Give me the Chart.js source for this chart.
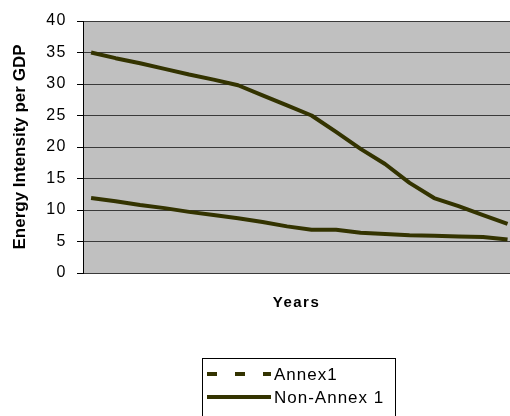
<!DOCTYPE html>
<html>
<head>
<meta charset="utf-8">
<script src="https://cdn.jsdelivr.net/npm/chart.js@4.4.0/dist/chart.umd.min.js"></script>
<style>
  html, body { margin: 0; padding: 0; background: #ffffff; overflow: hidden; }
  #c { display: block; }
</style>
</head>
<body>
<canvas id="c" width="510" height="416"></canvas>
<script>
// Time steps along the horizontal axis (unlabelled years)
const periods = [0, 1, 2, 3, 4, 5, 6, 7, 8, 9, 10, 11, 12, 13, 14, 15, 16, 17];

// Energy intensity per GDP for each group of countries
const annex1    = [11.9, 11.4, 10.8, 10.3, 9.7, 9.2, 8.7, 8.1, 7.4, 6.85, 6.85, 6.4, 6.2, 6.0, 5.9, 5.8, 5.7, 5.3];
const nonAnnex1 = [35.0, 34.1, 33.3, 32.4, 31.5, 30.7, 29.8, 28.2, 26.6, 25.0, 22.4, 19.7, 17.3, 14.3, 11.9, 10.6, 9.2, 7.8];

const seriesNames = ['Annex1', 'Non-Annex 1'];
const yTickValues = [0, 5, 10, 15, 20, 25, 30, 35, 40];

const FONT = '"Liberation Sans", Arial, Helvetica, sans-serif';
const LINE_COLOR = '#333300';

const toPoints = (vals) => periods.map((p, i) => ({ x: p, y: vals[i] }));

// Grey plotting area behind the grid
const plotBackground = {
  id: 'plotBackground',
  beforeDraw(chart) {
    const { ctx, chartArea: a } = chart;
    ctx.letterSpacing = '0px';
    ctx.save();
    ctx.fillStyle = '#c0c0c0';
    ctx.fillRect(a.left, a.top, a.right - a.left, a.bottom - a.top);
    ctx.restore();
  }
};

// Slightly wider tracking for the tick numbers and the horizontal title
const textTracking = {
  id: 'textTracking',
  afterDatasetsDraw(chart) {
    chart.ctx.letterSpacing = '1.5px';
  }
};

// Boxed legend under the chart
const legendBox = {
  id: 'legendBox',
  afterDraw(chart) {
    const ctx = chart.ctx;
    ctx.save();
    ctx.letterSpacing = '1px';
    ctx.strokeStyle = '#000000';
    ctx.lineWidth = 1;
    ctx.setLineDash([]);
    ctx.strokeRect(202.5, 358.5, 193, 70);
    chart.data.datasets.forEach((ds, i) => {
      const cy = 374 + i * 23;
      ctx.beginPath();
      ctx.setLineDash(ds.legendDash || []);
      ctx.strokeStyle = ds.borderColor;
      ctx.lineWidth = 4;
      ctx.lineCap = 'butt';
      ctx.moveTo(207, cy);
      ctx.lineTo(271, cy);
      ctx.stroke();
      ctx.setLineDash([]);
      ctx.fillStyle = '#000000';
      ctx.font = '17px ' + FONT;
      ctx.textBaseline = 'middle';
      ctx.textAlign = 'left';
      ctx.fillText(ds.label, 274, cy + 1);
    });
    ctx.restore();
    ctx.letterSpacing = '0px';
  }
};

new Chart(document.getElementById('c').getContext('2d'), {
  type: 'line',
  data: {
    datasets: [
      {
        label: seriesNames[0],
        data: toPoints(annex1),
        borderColor: LINE_COLOR,
        backgroundColor: LINE_COLOR,
        borderWidth: 4,
        pointRadius: 0,
        tension: 0,
        borderJoinStyle: 'round',
        borderCapStyle: 'butt',
        legendDash: [10, 18]
      },
      {
        label: seriesNames[1],
        data: toPoints(nonAnnex1),
        borderColor: LINE_COLOR,
        backgroundColor: LINE_COLOR,
        borderWidth: 4,
        pointRadius: 0,
        tension: 0,
        borderJoinStyle: 'round',
        borderCapStyle: 'butt'
      }
    ]
  },
  options: {
    responsive: false,
    animation: false,
    events: [],
    layout: { padding: { top: 21, left: 0, right: 0, bottom: 0 } },
    plugins: {
      legend: { display: false },
      tooltip: { enabled: false }
    },
    scales: {
      x: {
        type: 'linear',
        min: -0.33,
        max: 17.1,
        ticks: { display: false },
        grid: { display: false, z: 1 },
        border: { display: false },
        title: {
          display: true,
          text: 'Years',
          color: '#000000',
          font: { family: FONT, size: 15, weight: 'bold' },
          padding: { top: 0, bottom: 104 }
        },
        afterFit(scale) { scale.height = 143; }
      },
      y: {
        min: 0,
        max: 40,
        afterBuildTicks(scale) {
          scale.ticks = yTickValues.map(v => ({ value: v }));
        },
        ticks: {
          color: '#000000',
          font: { family: FONT, size: 16 },
          padding: 10,
          z: 1
        },
        grid: {
          color: '#3a3a3a',
          lineWidth: 1,
          tickLength: 6,
          tickColor: '#000000'
        },
        border: { color: '#000000', width: 1 },
        title: {
          display: true,
          text: 'Energy Intensity per GDP',
          color: '#000000',
          font: { family: FONT, size: 17, weight: 'bold' },
          padding: { top: 10, bottom: 0 }
        },
        afterFit(scale) { scale.width = 83; }
      }
    }
  },
  plugins: [plotBackground, textTracking, legendBox]
});
</script>
</body>
</html>
